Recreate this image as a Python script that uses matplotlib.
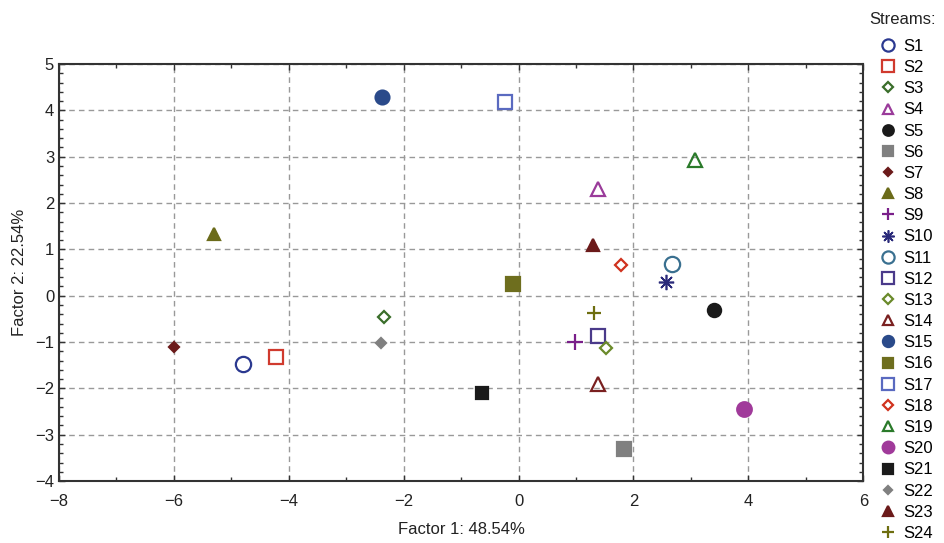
import matplotlib
matplotlib.use("Agg")
import matplotlib.pyplot as plt
from matplotlib.ticker import MultipleLocator

plt.rcParams["font.family"] = ["Liberation Sans", "DejaVu Sans"]

# Data: factor scores per stream
streams = [f"S{i}" for i in range(1, 25)]
factor1 = [-4.79, -4.22, -2.35, 1.39, 3.40, 1.83, -5.99, -5.30, 0.99, 2.56, 2.67, 1.38,
           1.53, 1.39, -2.37, -0.10, -0.23, 1.78, 3.07, 3.92, -0.64, -2.39, 1.29, 1.32]
factor2 = [-1.47, -1.32, -0.45, 2.31, -0.30, -3.30, -1.10, 1.34, -0.99, 0.30, 0.69, -0.86,
           -1.12, -1.90, 4.28, 0.26, 4.19, 0.67, 2.92, -2.44, -2.09, -1.01, 1.10, -0.37]

# Marker styles per stream: (marker, colour, filled, size)
styles = [
    ("o", "#2b3990", False, 11), ("s", "#d03a2e", False, 10), ("D", "#3a6e2a", False, 6.5),
    ("^", "#9a3b9a", False, 9.5), ("o", "#1a1a1a", True, 9.5), ("s", "#808080", True, 9.5),
    ("D", "#6b1a1a", True, 5.5), ("^", "#6b6b1a", True, 8.5), ("+", "#7a1f8a", False, 11),
    ((8, 2, 0), "#2a2a7a", False, 11), ("o", "#3a7090", False, 11), ("s", "#4a3a8a", False, 10),
    ("D", "#6a8a2a", False, 6.5), ("^", "#7a2020", False, 9.5), ("o", "#2a4a8a", True, 10),
    ("s", "#6e6e1e", True, 9.5), ("s", "#5a6ac0", False, 10.5), ("D", "#d0321e", False, 6.5),
    ("^", "#2a7a2a", False, 9.5), ("o", "#a03a9a", True, 10.5), ("s", "#1a1a1a", True, 9),
    ("D", "#808080", True, 5.5), ("^", "#6b1a1a", True, 8.5), ("+", "#6e6e10", False, 10),
]

fig = plt.figure(figsize=(9.44, 5.43), dpi=100)
ax = fig.add_axes([0.0625, 0.114, 0.852, 0.768])

for name, x, y, (m, c, filled, ms) in zip(streams, factor1, factor2, styles):
    ax.plot(x, y, linestyle="none", marker=m, markersize=ms,
            markeredgecolor=c, markerfacecolor=c if filled else "none",
            markeredgewidth=1.2 if m == (8, 2, 0) else 1.6, label=name, zorder=3)

ax.set_xlim(-8, 6)
ax.set_ylim(-4, 5)
ax.xaxis.set_major_locator(MultipleLocator(2))
ax.xaxis.set_minor_locator(MultipleLocator(1))
ax.yaxis.set_major_locator(MultipleLocator(1))
ax.yaxis.set_minor_locator(MultipleLocator(0.2))
ax.tick_params(which="both", direction="in", top=True, right=True, labelsize=12,
               colors="#333333", labelcolor="#222222")
ax.tick_params(which="major", length=4, width=1)
ax.tick_params(which="minor", length=3, width=1)
ax.tick_params(axis="x", pad=9)
ax.grid(True, which="major", linestyle=(0, (4, 3)), color="#999999", linewidth=1)
for sp in ax.spines.values():
    sp.set_linewidth(1.5)
    sp.set_color("#333333")

ax.set_xlabel("Factor 1: 48.54%", fontsize=12, color="#222222", labelpad=10)
ax.set_ylabel("Factor 2: 22.54%", fontsize=12, color="#222222", labelpad=6)

fig.text(903 / 944, 1 - 20 / 543, "Streams:", fontsize=12, color="#222222",
         ha="center", va="center")
fig.legend(loc="upper left", bbox_to_anchor=(881 / 944, 1 - 39 / 543), frameon=False,
           fontsize=12, handlelength=0.8, handletextpad=0.55, labelspacing=0.37,
           borderaxespad=0, borderpad=0, markerscale=0.8)

fig.savefig("out.png", dpi=100)
